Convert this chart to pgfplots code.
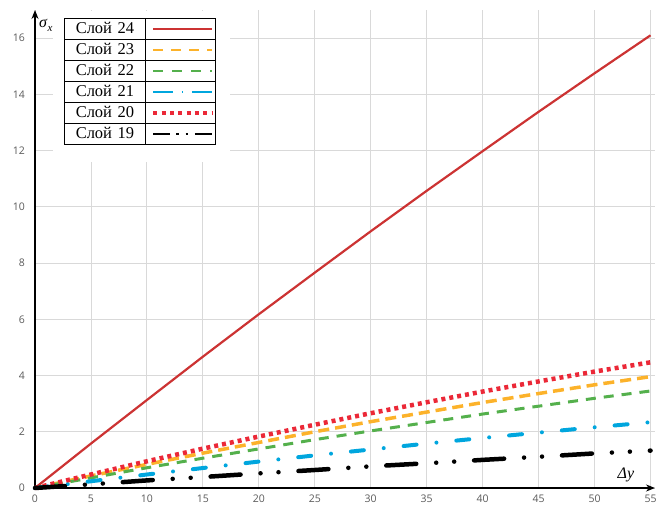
\documentclass[border=0pt]{standalone}
\usepackage{pgfplots}
\pgfplotsset{compat=1.18}
\usepackage{fontspec}
\setmainfont{Liberation Serif}
\newfontfamily\tickfont{Open Sans}
\usetikzlibrary{arrows.meta,calc}
\definecolor{cRed}{RGB}{204,51,51}
\definecolor{cOrange}{RGB}{252,178,42}
\definecolor{cGreen}{RGB}{84,176,76}
\definecolor{cBlue}{RGB}{0,166,222}
\definecolor{cDot}{RGB}{235,40,55}
\definecolor{cGrid}{RGB}{217,217,217}
\definecolor{cTick}{RGB}{90,90,90}
\begin{document}
\begin{tikzpicture}
\useasboundingbox (-35pt,-23pt) rectangle (631pt,488pt);
\begin{axis}[
  scale only axis, width=620pt, height=478pt,
  xmin=0, xmax=55.4, ymin=0, ymax=17,
  axis lines=left,
  axis line style={black, line width=1.3pt, -{Stealth[length=9pt,width=7pt]}},
  xtick={0,5,...,55}, ytick={0,2,...,16},
  major tick length=0pt,
  grid=major, major grid style={cGrid, line width=0.9pt},
  ticklabel style={font=\tickfont\fontsize{10.5}{12}\selectfont, text=cTick},
  /pgf/number format/assume math mode=true,
  yticklabel style={inner sep=0pt, xshift=-10pt},
  xticklabel style={inner sep=0pt, yshift=-7pt},
  legend plot pos=right,
  legend style={at={(0.0468,0.983)}, anchor=north west, draw=black, line width=0.8pt, fill=white,
    inner sep=0pt, row sep=0pt, column sep=0pt,
    font=\fontsize{16.5}{18}\selectfont,
    nodes={text width=81pt, align=center, minimum height=21pt, inner sep=0pt},
    name=leg},
  legend image code/.code={\path[draw=none,fill=none] (0pt,-10.5pt) rectangle (70pt,10.5pt); \draw[#1] (8pt,0pt) -- (67pt,0pt);},
  clip=false,
]
\fill[white] (axis cs:1.6,11.6) rectangle (axis cs:17.4,16.95);
% legend images
\addlegendimage{cRed, line width=2pt}
\addlegendentry{Слой 24}
\addlegendimage{cOrange, line width=2.5pt, dash pattern=on 10pt off 8pt}
\addlegendentry{Слой 23}
\addlegendimage{cGreen, line width=2.3pt, dash pattern=on 9.5pt off 9.5pt}
\addlegendentry{Слой 22}
\addlegendimage{cBlue, line width=2pt, dash pattern=on 20pt off 8.5pt on 1.5pt off 8.5pt}
\addlegendentry{Слой 21}
\addlegendimage{cDot, line width=3.5pt, dash pattern=on 4pt off 4.3pt}
\addlegendentry{Слой 20}
\addlegendimage{black, line width=2pt, dash pattern=on 17pt off 6pt on 2.2pt off 7pt on 2.2pt off 7pt}
\addlegendentry{Слой 19}
% data
\addplot[forget plot, cRed, line width=2.2pt] coordinates {(0,0) (5,1.58) (10,3.13) (15,4.67) (20,6.18) (25,7.66) (30,9.13) (35,10.57) (40,11.98) (45,13.38) (50,14.75) (55,16.10)};
\addplot[forget plot, cOrange, line width=3.5pt, dash pattern=on 11pt off 6pt] coordinates {(0,0) (5,0.43) (10,0.84) (15,1.24) (20,1.62) (25,2.00) (30,2.36) (35,2.70) (40,3.04) (45,3.36) (50,3.67) (55,3.96)};
\addplot[forget plot, cGreen, line width=3pt, dash pattern=on 10pt off 8pt] coordinates {(0,0) (5,0.36) (10,0.72) (15,1.06) (20,1.39) (25,1.72) (30,2.03) (35,2.33) (40,2.63) (45,2.91) (50,3.19) (55,3.45)};
\addplot[forget plot, cBlue, line width=4pt, line cap=round, dash pattern=on 13pt off 20pt on 0pt off 20pt] coordinates {(0,0) (5,0.24) (10,0.48) (15,0.71) (20,0.94) (25,1.16) (30,1.37) (35,1.58) (40,1.78) (45,1.97) (50,2.16) (55,2.34)};
\addplot[forget plot, cDot, line width=4.5pt, dash pattern=on 4pt off 4pt] coordinates {(0,0) (5,0.48) (10,0.95) (15,1.40) (20,1.83) (25,2.25) (30,2.66) (35,3.05) (40,3.43) (45,3.79) (50,4.14) (55,4.47)};
\addplot[forget plot, black, line width=4.5pt, line cap=round, dash pattern=on 30pt off 20pt on 0pt off 18pt on 0pt off 20pt] coordinates {(0,0) (5,0.13) (10,0.27) (15,0.39) (20,0.52) (25,0.64) (30,0.77) (35,0.88) (40,1.00) (45,1.11) (50,1.23) (55,1.33)};
\node[anchor=west, inner sep=0pt, font=\fontsize{16}{18}\selectfont] at (axis cs:0.35,16.45) {\textit{σ}\raisebox{-0.45ex}{\fontsize{11}{12}\selectfont\textit{x}}};
\node[inner sep=0pt, font=\fontsize{16}{18}\selectfont] at (axis cs:52.8,0.45) {\textit{Δy}};
\end{axis}
\foreach \i in {1,...,5} {
  \draw[black, line width=0.8pt] ($(leg.north west)!\i/6!(leg.south west)$) -- ($(leg.north east)!\i/6!(leg.south east)$);
}
\draw[black, line width=0.8pt] ([xshift=81pt]leg.north west) -- ([xshift=81pt]leg.south west);
\end{tikzpicture}
\end{document}
